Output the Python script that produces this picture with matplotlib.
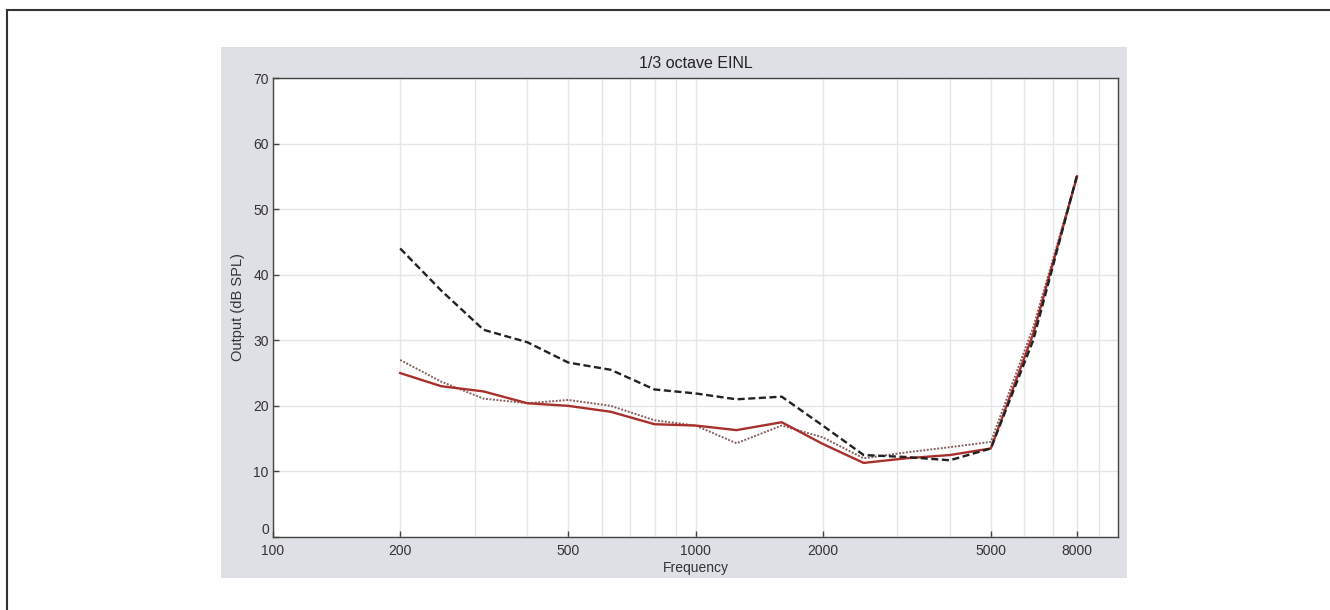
import matplotlib
matplotlib.use("Agg")
import matplotlib.pyplot as plt
from matplotlib.patches import Rectangle
from matplotlib.lines import Line2D
from matplotlib.ticker import FixedLocator, NullFormatter, FixedFormatter

plt.rcParams["font.family"] = ["Liberation Sans", "DejaVu Sans"]

freqs = [200, 250, 315, 400, 500, 630, 800, 1000, 1250, 1600, 2000, 2500, 3150, 4000, 5000, 6300, 8000]
black_dashed = [44.0, 37.6, 31.6, 29.7, 26.6, 25.5, 22.5, 21.9, 21.0, 21.4, 17.0, 12.5, 12.2, 11.7, 13.5, 30.0, 55.2]
red_solid = [25.0, 23.0, 22.2, 20.4, 20.0, 19.1, 17.2, 17.0, 16.3, 17.5, 14.2, 11.3, 12.0, 12.5, 13.5, 31.0, 55.0]
dotted = [27.0, 23.7, 21.1, 20.4, 20.9, 20.0, 17.8, 17.0, 14.3, 17.0, 15.2, 12.0, 12.9, 13.7, 14.5, 32.0, 55.0]

x_major = [100, 200, 500, 1000, 2000, 5000, 8000]
x_major_labels = ["100", "200", "500", "1000", "2000", "5000", "8000"]
x_minor = [300, 400, 600, 700, 800, 900, 3000, 4000, 6000, 7000, 9000]
y_ticks = [0, 10, 20, 30, 40, 50, 60, 70]

W, H = 1330, 610
fig = plt.figure(figsize=(W / 100, H / 100), dpi=100)
fig.patch.set_facecolor("white")

# gray panel
panel = Rectangle((221 / W, 1 - 578 / H), 906 / W, 531 / H,
                  transform=fig.transFigure, facecolor="#dfe0e6",
                  edgecolor="none", zorder=-5)
fig.add_artist(panel)
# outer frame (top and left)
fig.add_artist(Line2D([7 / W, 7 / W], [0, 1 - 10 / H], transform=fig.transFigure,
                      color="#333333", lw=1.5, zorder=-5))
fig.add_artist(Line2D([7 / W, 1], [1 - 10 / H, 1 - 10 / H], transform=fig.transFigure,
                      color="#333333", lw=1.5, zorder=-5))

ax = fig.add_axes([273 / W, 1 - 537 / H, (1118 - 273) / W, (537 - 78) / H])
ax.set_zorder(1)
ax.set_facecolor("white")
ax.set_xscale("log")
ax.set_xlim(100, 10000)
ax.set_ylim(0, 70)

ax.xaxis.set_major_locator(FixedLocator(x_major))
ax.xaxis.set_major_formatter(FixedFormatter(x_major_labels))
ax.xaxis.set_minor_locator(FixedLocator(x_minor))
ax.xaxis.set_minor_formatter(NullFormatter())
ax.set_yticks(y_ticks)

ax.grid(True, which="major", color="#e6e6e6", lw=1.0)
ax.grid(True, which="minor", axis="x", color="#e6e6e6", lw=1.0)
ax.set_axisbelow(True)

ax.tick_params(axis="both", which="major", direction="in", length=4, width=1,
               color="#444444", labelsize=10, labelcolor="#333333", pad=3)
ax.tick_params(axis="x", which="major", pad=5)
ax.tick_params(axis="x", which="minor", length=0)
for s in ax.spines.values():
    s.set_color("#444444")
    s.set_linewidth(1.0)
# nudge the "0" label up a little so it sits beside (not on) the "100" label
ax.get_yticklabels()[0].set_verticalalignment("bottom")

ax.plot(freqs, dotted, color="#85605e", lw=1.4, linestyle=(0, (1, 0.8)), zorder=3)
ax.plot(freqs, red_solid, color="#a8302c", lw=1.7, zorder=4)
ax.plot(freqs, black_dashed, color="#222222", lw=1.7, linestyle=(0, (3, 1.5)), zorder=5)

ax.set_title("1/3 octave EINL", fontsize=11.5, color="#222222", pad=7)
ax.set_xlabel("Frequency", fontsize=10, color="#333333", labelpad=2)
ax.set_ylabel("Output (dB SPL)", fontsize=10.5, color="#333333", labelpad=6)

fig.savefig("out.png", dpi=100, facecolor="white")
